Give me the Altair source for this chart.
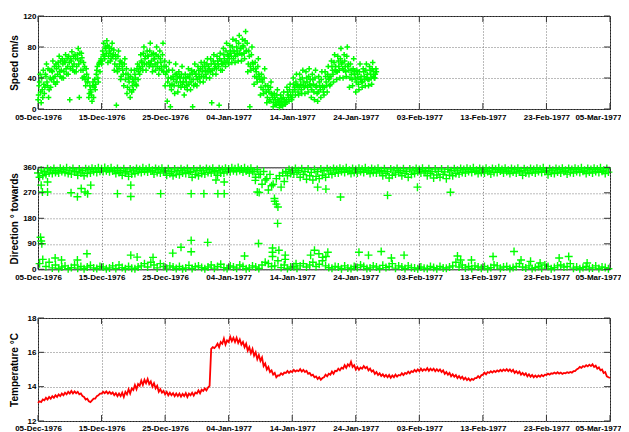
import json
import altair as alt
import pandas as pd

# ---------------- data ----------------
X_TICKS = [0, 10, 20, 30, 40, 50, 60, 70, 80, 90]
X_LABELS = ["05-Dec-1976", "15-Dec-1976", "25-Dec-1976", "04-Jan-1977", "14-Jan-1977",
            "24-Jan-1977", "03-Feb-1977", "13-Feb-1977", "23-Feb-1977", "05-Mar-1977"]

SPEED_TICKS = [0, 40, 80, 120]
DIR_TICKS = [0, 90, 180, 270, 360]
TEMP_TICKS = [12, 14, 16, 18]

# speed (cm/s), 6 samples per day from 05-Dec-1976 (on the 4-hour marks)
speed = [
    12, 30, 45, 8, 25, 50,
    20, 45, 58, 30, 15, 50,
    28, 50, 62, 35, 42, 58,
    35, 60, 68, 42, 50, 65,
    40, 62, 70, 45, 55, 68,
    12, 65, 74, 50, 58, 70,
    48, 70, 78, 15, 62, 72,
    40, 60, 55, 30, 45, 35,
    15, 30, 22, 10, 35, 28,
    25, 45, 55, 35, 60, 62,
    58, 75, 85, 65, 78, 88,
    60, 80, 72, 65, 85, 70,
    50, 70, 5, 48, 75, 58,
    38, 60, 50, 30, 65, 45,
    20, 45, 35, 15, 50, 30,
    25, 50, 40, 30, 58, 48,
    45, 70, 60, 50, 80, 65,
    50, 75, 68, 55, 85, 62,
    48, 72, 65, 50, 80, 60,
    45, 75, 60, 50, 85, 55,
    30, 55, 10, 40, 60, 3,
    25, 50, 38, 20, 58, 45,
    22, 48, 40, 28, 55, 35,
    18, 45, 35, 25, 52, 40,
    25, 50, 3, 30, 58, 45,
    30, 55, 45, 35, 60, 48,
    35, 60, 50, 40, 65, 55,
    40, 65, 8, 45, 70, 58,
    45, 68, 58, 5, 72, 62,
    50, 78, 65, 55, 85, 70,
    58, 82, 72, 60, 90, 75,
    60, 88, 75, 62, 95, 78,
    62, 90, 80, 65, 100, 75,
    48, 75, 3, 50, 80, 58,
    32, 60, 48, 35, 65, 42,
    18, 45, 35, 20, 52, 30,
    8, 30, 22, 10, 35, 18,
    3, 20, 12, 5, 25, 10,
    2, 18, 10, 4, 22, 8,
    8, 28, 18, 10, 32, 15,
    15, 40, 28, 18, 45, 30,
    18, 45, 32, 20, 50, 35,
    20, 48, 35, 22, 52, 38,
    15, 45, 32, 12, 50, 30,
    10, 42, 30, 15, 48, 28,
    18, 48, 35, 22, 55, 40,
    32, 62, 50, 35, 70, 55,
    38, 68, 55, 40, 78, 60,
    40, 70, 55, 42, 80, 58,
    28, 58, 45, 30, 65, 48,
    22, 50, 40, 25, 58, 42,
    28, 52, 42, 30, 58, 45,
    30, 55, 45, 32, 60, 48,
    40, 52,
]

# speed (cm/s), the samples two hours after each of the above
speed_b = [
    18, 35, 22, 40, 15, 32,
    28, 42, 35, 52, 25, 40,
    38, 48, 40, 55, 32, 52,
    45, 55, 48, 62, 40, 58,
    48, 60, 52, 65, 45, 60,
    52, 62, 55, 68, 48, 65,
    55, 65, 58, 72, 50, 66,
    50, 42, 38, 52, 35, 40,
    20, 25, 18, 30, 15, 38,
    32, 50, 40, 58, 48, 65,
    62, 70, 68, 80, 72, 82,
    68, 75, 62, 78, 68, 76,
    58, 65, 55, 68, 52, 62,
    42, 55, 45, 58, 38, 52,
    28, 40, 25, 42, 22, 38,
    35, 45, 32, 52, 38, 55,
    52, 62, 55, 72, 58, 68,
    58, 68, 60, 75, 58, 70,
    55, 65, 58, 70, 55, 68,
    52, 65, 55, 70, 48, 62,
    45, 48, 35, 50, 30, 40,
    32, 42, 30, 45, 35, 40,
    30, 42, 35, 45, 32, 40,
    28, 40, 30, 42, 32, 45,
    35, 45, 38, 48, 32, 42,
    38, 50, 40, 52, 42, 55,
    42, 55, 45, 58, 48, 52,
    48, 58, 50, 62, 52, 55,
    52, 62, 55, 65, 50, 58,
    58, 70, 60, 75, 62, 68,
    65, 75, 68, 80, 65, 72,
    68, 80, 70, 85, 72, 78,
    70, 82, 72, 88, 75, 85,
    58, 68, 55, 70, 60, 52,
    42, 52, 40, 55, 45, 38,
    28, 38, 25, 40, 30, 22,
    15, 25, 12, 28, 20, 15,
    8, 15, 6, 18, 12, 8,
    6, 14, 5, 15, 12, 6,
    12, 22, 15, 25, 18, 12,
    22, 32, 25, 35, 30, 22,
    28, 38, 25, 40, 30, 28,
    30, 40, 28, 42, 32, 30,
    25, 38, 22, 40, 28, 20,
    22, 35, 25, 38, 30, 22,
    28, 42, 30, 45, 38, 30,
    42, 55, 45, 60, 50, 48,
    48, 62, 50, 65, 58, 52,
    50, 62, 48, 68, 55, 50,
    40, 50, 38, 52, 45, 40,
    35, 45, 32, 48, 38, 35,
    35, 48, 38, 50, 40, 38,
    38, 50, 40, 52, 42, 40,
    45, 48,
]

# direction main band (deg towards), 4 samples per day
dir_main = [
    340, 325, 350, 330,  345, 335, 355, 340,  350, 338, 356, 342,  348, 340, 357, 345,
    352, 342, 358, 338,  350, 336, 356, 344,  346, 332, 354, 340,  348, 330, 355, 338,
    352, 340, 357, 345,  354, 342, 358, 346,  355, 345, 359, 348,  354, 344, 358, 347,
    350, 338, 356, 342,  348, 332, 355, 340,  346, 328, 354, 336,  350, 338, 356, 344,
    352, 342, 358, 346,  353, 343, 358, 347,  350, 336, 356, 342,  352, 340, 357, 345,
    348, 332, 355, 338,  346, 330, 354, 336,  348, 334, 355, 340,  350, 338, 356, 342,
    346, 325, 354, 335,  348, 330, 355, 338,  350, 336, 356, 342,  352, 340, 357, 345,
    348, 332, 355, 340,  352, 340, 357, 345,  354, 344, 358, 348,  355, 345, 359, 349,
    354, 343, 358, 347,  352, 340, 357, 345,  345, 325, 352, 335,  335, 300, 345, 315,
    320, 280, 335, 295,  300, 240, 320, 220,  330, 290, 340, 310,  345, 330, 352, 338,
    350, 336, 356, 342,  348, 325, 355, 335,  345, 318, 354, 330,  342, 315, 352, 328,
    345, 320, 354, 332,  348, 325, 355, 336,  350, 335, 356, 340,  352, 340, 357, 345,
    353, 342, 358, 346,  350, 338, 356, 342,  352, 340, 357, 345,  353, 342, 358, 347,
    350, 338, 356, 342,  352, 340, 357, 345,  348, 330, 355, 338,  345, 322, 354, 332,
    350, 336, 356, 342,  348, 330, 355, 338,  346, 325, 354, 335,  350, 338, 356, 344,
    352, 340, 357, 345,  348, 330, 355, 338,  345, 322, 354, 333,  346, 325, 354, 335,
    344, 320, 353, 332,  348, 330, 355, 338,  350, 336, 356, 342,  352, 340, 357, 345,
    353, 342, 358, 346,  350, 338, 356, 342,  352, 340, 357, 345,  350, 336, 356, 342,
    353, 342, 358, 347,  352, 340, 357, 345,  350, 338, 356, 343,  352, 340, 357, 345,
    348, 332, 355, 340,  350, 338, 356, 343,  352, 340, 357, 345,  353, 342, 358, 346,
    348, 334, 355, 340,  350, 338, 356, 343,  352, 340, 357, 345,  350, 336, 356, 342,
    352, 340, 357, 345,  353, 342, 358, 346,  350, 338, 356, 343,  352, 340, 357, 345,
    353, 342, 358, 346,  350, 338, 356, 343,
]

# direction just past north (wrapped to 0-40 deg), 2 samples per day
dir_low = [
    20, 35, 10, 25, 5, 15, 3, 8, 12, 2, 6, 15, 4, 10, 2, 8, 14, 5, 3, 10,
    8, 2, 5, 12, 3, 15, 6, 2, 10, 4, 2, 8, 12, 20, 8, 25, 15, 5, 20, 10,
    4, 12, 8, 3, 10, 2, 5, 14, 3, 9, 12, 6, 2, 8, 15, 4, 10, 18, 6, 3,
    12, 8, 4, 15, 10, 2, 5, 12, 8, 3, 15, 25, 20, 10, 12, 30, 6, 15, 3, 8,
    10, 4, 12, 20, 8, 15, 25, 10, 18, 30, 12, 6, 4, 10, 8, 2, 12, 5, 3, 10,
    6, 15, 10, 3, 5, 12, 8, 2, 14, 6, 10, 20, 4, 12, 8, 3, 12, 6, 5, 2,
    8, 4, 3, 10, 6, 2, 10, 5, 4, 8, 12, 25, 8, 15, 5, 10, 3, 12, 8, 4,
    10, 2, 6, 15, 12, 4, 8, 10, 3, 6, 10, 20, 8, 5, 12, 3, 6, 10, 4, 15,
    10, 2, 6, 12, 15, 8, 10, 20, 4, 8, 2, 6, 10, 4, 5, 12, 3, 8, 6, 2,
]

# isolated direction values (day after 05-Dec-1976, deg)
dir_out_day = [0.4, 0.5, 0.6, 0.5, 0.7, 1.5, 1.5, 5.2, 6.2, 6.8, 7.4, 7.8, 8.3, 12.5, 14.6,
               14.6, 19.3, 24.1, 26.1, 28.3, 29.3, 28.0, 29.3, 34.5, 24.1, 26.7, 22.5, 34.7,
               21.2, 24.1, 7.7, 2.7, 3.7, 6.2, 14.6, 15.6, 18.1, 32.5, 36.9, 36.9, 36.9, 37.9,
               38.9, 38.9, 37.7, 37.5, 37.2, 40.6, 47.6, 34.8, 34.2, 42.9, 45.6, 45.3, 50.5,
               55.0, 59.7, 64.9, 45.3, 44.0, 43.5, 44.2, 44.8, 52.0, 54.0, 55.6, 57.6, 66.0,
               66.5, 68.2, 71.6, 74.9, 76.0, 77.5, 79.0, 82.0, 83.5, 86.4]
dir_out_val = [113, 100, 90, 297, 273, 273, 308, 270, 256, 285, 273, 267, 297, 267, 257,
               297, 267, 267, 267, 267, 267, 315, 308, 273, 102, 95, 78, 91,
               57, 62, 55, 40, 33, 33, 50, 43, 42, 47, 75, 60, 45, 67,
               50, 35, 162, 230, 250, 20, 255, 271, 314, 50, 60, 45, 60,
               261, 290, 272, 283, 290, 67, 55, 42, 50, 63, 40, 50, 47,
               33, 33, 45, 63, 33, 28, 22, 40, 45, 22]

# temperature (deg C), 4 samples per day
temp = [
    13.05, 13.15, 13.1, 13.25,  13.2, 13.35, 13.25, 13.4,  13.3, 13.45, 13.35, 13.5,
    13.4, 13.55, 13.45, 13.6,  13.5, 13.65, 13.55, 13.7,  13.6, 13.75, 13.6, 13.72,
    13.62, 13.7, 13.55, 13.6,  13.45, 13.4, 13.25, 13.3,  13.15, 13.1, 13.2, 13.3,
    13.3, 13.45, 13.5, 13.6,  13.6, 13.7, 13.62, 13.72,  13.6, 13.7, 13.58, 13.66,
    13.5, 13.62, 13.45, 13.6,  13.45, 13.65, 13.4, 13.7,  13.55, 13.85, 13.6, 13.9,
    13.8, 14.1, 13.85, 14.15,  14.05, 14.35, 14.1, 14.4,  14.2, 14.45, 14.15, 14.3,
    14.0, 14.2, 13.9, 14.05,  13.7, 13.85, 13.65, 13.75,  13.55, 13.7, 13.5, 13.65,
    13.5, 13.62, 13.45, 13.6,  13.45, 13.6, 13.42, 13.58,  13.45, 13.62, 13.4, 13.6,
    13.5, 13.65, 13.48, 13.66,  13.6, 13.78, 13.62, 13.82,  13.75, 13.9, 13.78, 13.95,
    14.05, 16.2, 16.3, 16.25,  16.35, 16.5, 16.3, 16.6,  16.5, 16.8, 16.45, 16.7,
    16.6, 16.9, 16.65, 16.85,  16.6, 16.85, 16.55, 16.75,  16.45, 16.6, 16.3, 16.5,
    16.1, 16.3, 15.95, 16.2,  15.8, 16.0, 15.6, 15.85,  15.5, 15.7, 15.2, 15.35,
    15.0, 15.15, 14.85, 14.95,  14.7, 14.8, 14.55, 14.65,  14.65, 14.78, 14.7, 14.82,
    14.8, 14.92, 14.8, 14.9,  14.85, 14.98, 14.88, 14.95,  14.9, 15.02, 14.88, 14.98,
    14.85, 14.92, 14.75, 14.8,  14.65, 14.7, 14.55, 14.6,  14.45, 14.55, 14.4, 14.5,
    14.55, 14.7, 14.6, 14.75,  14.7, 14.88, 14.75, 14.92,  14.9, 15.05, 14.95, 15.1,
    15.05, 15.25, 15.1, 15.3,  15.2, 15.45, 15.15, 15.25,  15.0, 15.15, 14.98, 15.12,
    15.05, 15.2, 15.08, 15.15,  14.95, 15.05, 14.88, 14.95,  14.75, 14.85, 14.68, 14.78,
    14.62, 14.72, 14.58, 14.68,  14.55, 14.68, 14.52, 14.65,  14.55, 14.7, 14.58, 14.68,
    14.65, 14.78, 14.68, 14.8,  14.75, 14.88, 14.78, 14.9,  14.85, 14.98, 14.88, 15.0,
    14.9, 15.05, 14.92, 15.02,  14.95, 15.08, 14.92, 15.05,  14.95, 15.05, 14.9, 15.02,
    14.9, 15.0, 14.85, 14.95,  14.75, 14.85, 14.7, 14.8,  14.6, 14.72, 14.58, 14.68,
    14.5, 14.62, 14.48, 14.58,  14.42, 14.52, 14.38, 14.48,  14.35, 14.45, 14.4, 14.5,
    14.5, 14.62, 14.52, 14.66,  14.7, 14.82, 14.72, 14.85,  14.8, 14.9, 14.82, 14.92,
    14.85, 14.95, 14.88, 14.98,  14.9, 15.0, 14.92, 15.02,  14.9, 15.0, 14.88, 14.98,
    14.8, 14.9, 14.78, 14.88,  14.7, 14.8, 14.68, 14.78,  14.6, 14.72, 14.58, 14.68,
    14.55, 14.65, 14.55, 14.65,  14.58, 14.68, 14.6, 14.7,  14.68, 14.76, 14.7, 14.78,
    14.75, 14.82, 14.76, 14.84,  14.76, 14.82, 14.74, 14.8,  14.78, 14.84, 14.8, 14.86,
    14.82, 14.9, 14.9, 15.0,  15.05, 15.15, 15.1, 15.2,  15.15, 15.25, 15.18, 15.28,
    15.2, 15.3, 15.15, 15.22,  15.05, 15.12, 14.95, 15.0,  14.8, 14.85, 14.6, 14.55,
    14.5,
]

# ---------------- tables ----------------
speed_df = pd.concat([
    pd.DataFrame({"day": [i / 6 for i in range(len(speed))], "v": speed}),
    pd.DataFrame({"day": [i / 6 + 1 / 12 for i in range(len(speed_b))], "v": speed_b}),
], ignore_index=True)
dir_df = pd.concat([
    pd.DataFrame({"day": [i * 0.25 for i in range(len(dir_main))], "v": dir_main}),
    pd.DataFrame({"day": [0.25 + i * 0.5 for i in range(len(dir_low))], "v": dir_low}),
    pd.DataFrame({"day": dir_out_day, "v": dir_out_val}),
], ignore_index=True)
temp_df = pd.DataFrame({"day": [i * 0.25 for i in range(len(temp))], "v": temp})

# ---------------- styling ----------------
W = 572
GREEN = "#00FF00"
RED = "#FF0000"
LABEL_FONT = "Liberation Sans, Arial, sans-serif"
TITLE_FONT = "Liberation Sans, Arial, sans-serif"
PLUS = "M-1,0L1,0M0,-1L0,1"
TICK_LEN = 6
TICK_COLOR = "#333333"

label_expr = json.dumps(X_LABELS) + "[round(datum.value / 10)]"
last_tick = X_TICKS[-1]


def x_enc(label_pad):
    return alt.X(
        "day:Q",
        scale=alt.Scale(domain=[X_TICKS[0], last_tick], nice=False, zero=False),
        axis=alt.Axis(values=X_TICKS, labelExpr=label_expr, title=None, ticks=False,
                      domain=False, labelPadding=label_pad, labelFlush=False,
                      labelOverlap=False,
                      labelOffset={"condition": {"test": f"datum.value == {last_tick}",
                                                 "value": -12},
                                   "value": 0}),
    )


def y_enc(domain, ticks, title):
    return alt.Y(
        "v:Q",
        scale=alt.Scale(domain=domain, nice=False, zero=False),
        axis=alt.Axis(values=ticks, title=title, ticks=False, domain=False,
                      labelPadding=2, minExtent=15, maxExtent=15, titlePadding=4,
                      labelFlush=False),
    )


def tick_layers(xenc, yenc, ticks, h):
    xt = pd.DataFrame({"day": X_TICKS})
    yt = pd.DataFrame({"v": ticks})
    top = alt.Chart(xt).mark_rule(color=TICK_COLOR, strokeWidth=1).encode(
        x=xenc, y=alt.value(0), y2=alt.value(TICK_LEN))
    bot = alt.Chart(xt).mark_rule(color=TICK_COLOR, strokeWidth=1).encode(
        x=xenc, y=alt.value(h - TICK_LEN), y2=alt.value(h))
    left = alt.Chart(yt).mark_rule(color=TICK_COLOR, strokeWidth=1).encode(
        y=yenc, x=alt.value(0), x2=alt.value(TICK_LEN))
    right = alt.Chart(yt).mark_rule(color=TICK_COLOR, strokeWidth=1).encode(
        y=yenc, x=alt.value(W - TICK_LEN), x2=alt.value(W))
    return [top, bot, left, right]


# speed panel
H1 = 93
xs = x_enc(4)
ys = y_enc([0, 120], SPEED_TICKS, "Speed cm/s")
speed_pts = alt.Chart(speed_df).mark_point(
    shape=PLUS, size=30, filled=False, stroke=GREEN, strokeWidth=1.5, opacity=1, clip=False
).encode(x=xs, y=ys)
p1 = alt.layer(speed_pts, *tick_layers(xs, ys, SPEED_TICKS, H1)).properties(width=W, height=H1)

# direction panel
H2 = 102
yd = y_enc([0, 360], DIR_TICKS, "Direction \u00b0 towards")
dir_pts = alt.Chart(dir_df).mark_point(
    shape=PLUS, size=64, filled=False, stroke=GREEN, strokeWidth=1.4, opacity=1, clip=False
).encode(x=xs, y=yd)
p2 = alt.layer(dir_pts, *tick_layers(xs, yd, DIR_TICKS, H2)).properties(width=W, height=H2)

# temperature panel
H3 = 103
xt3 = x_enc(3)
yt_ = y_enc([12, 18], TEMP_TICKS, "Temperature \u00b0C")
temp_line = alt.Chart(temp_df).mark_line(color=RED, strokeWidth=1.8).encode(x=xt3, y=yt_)
p3 = alt.layer(temp_line, *tick_layers(xt3, yt_, TEMP_TICKS, H3)).properties(width=W, height=H3)

chart = alt.vconcat(
    alt.vconcat(p1, p2, spacing=37.3),
    p3,
    spacing=31,
).properties(
    padding={"left": 0, "top": 3, "right": -1, "bottom": 0},
    background="white",
).configure_view(
    stroke="#222222", strokeWidth=1
).configure_axis(
    grid=True, gridColor="#777777", gridDash=[1, 2], gridWidth=1, gridOpacity=1,
    labelFont=LABEL_FONT, labelFontSize=8, labelFontWeight="bold", labelColor="#000000",
    titleFont=TITLE_FONT, titleFontSize=10, titleFontWeight="bold", titleColor="#000000",
)

chart.save("out.html", embed_options={"renderer": "svg", "actions": False})
